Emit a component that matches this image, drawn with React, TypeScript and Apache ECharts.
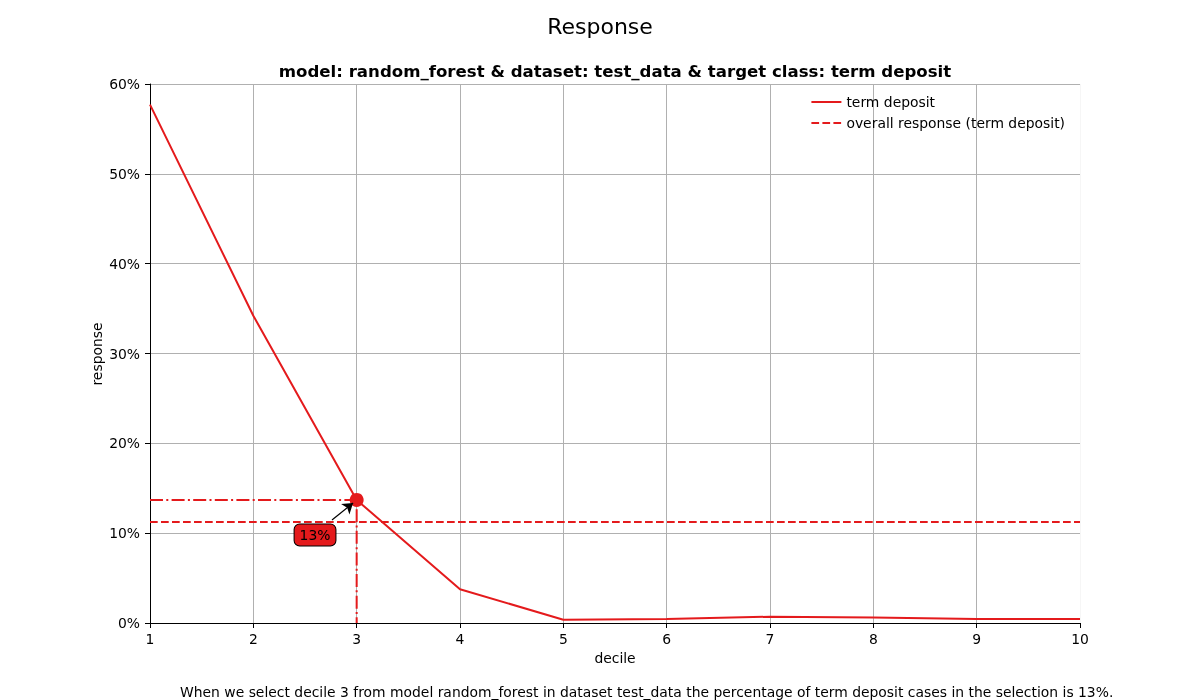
import React, { useEffect, useRef } from "react";
import * as echarts from "echarts";

const deciles = [1, 2, 3, 4, 5, 6, 7, 8, 9, 10];
const responseValues = [0.577, 0.342, 0.137, 0.0375, 0.0037, 0.0045, 0.007, 0.006, 0.0045, 0.0045];
const overallResponse = 0.1125;
const selectedDecile = 3;
const labelPos = [2.597, 0.098];
const arrowFrom = [2.761, 0.1147];
const arrowTo = [2.965, 0.1335];
const yTicks = [0, 0.1, 0.2, 0.3, 0.4, 0.5, 0.6];

const RED = "#e41a1c";
const FONT = "DejaVu Sans";
const GRID = "#b0b0b0";

export default function App() {
  const ref = useRef<HTMLDivElement>(null);
  useEffect(() => {
    if (!ref.current) return;
    const chart = echarts.init(ref.current, null, { renderer: "svg" });
    const selVal = responseValues[deciles.indexOf(selectedDecile)];
    const pct = Math.floor(selVal * 100) + "%";
    const xGridColors = deciles.map((_, i) => (i === deciles.length - 1 ? "#f6f6f6" : GRID));
    chart.setOption({
      animation: false,
      textStyle: { fontFamily: FONT },
      title: {
        text: "Response",
        left: "center",
        top: 10,
        textStyle: { fontFamily: FONT, fontSize: 22, fontWeight: "normal", color: "#000" },
      },
      legend: {
        orient: "vertical",
        right: 130,
        top: 90,
        itemWidth: 30,
        itemHeight: 14,
        itemGap: 7,
        itemStyle: { opacity: 0 },
        textStyle: { fontFamily: FONT, fontSize: 13.9, color: "#000" },
        data: ["term deposit", "overall response (term deposit)"],
      },
      grid: { left: 150, right: 120, top: 84, bottom: 77, containLabel: false },
      xAxis: {
        type: "value",
        min: 1,
        max: 10,
        interval: 1,
        axisLine: { show: true, onZero: false, lineStyle: { color: "#000", width: 1 } },
        axisTick: { show: true, length: 5, lineStyle: { color: "#000" } },
        axisLabel: { color: "#000", fontSize: 13.9, fontFamily: FONT, margin: 9 },
        splitLine: { show: true, lineStyle: { color: xGridColors, width: 1 } },
      },
      yAxis: {
        type: "value",
        min: 0,
        max: 0.6,
        interval: 0.1,
        axisLine: { show: true, lineStyle: { color: "#000", width: 1 } },
        axisTick: { show: true, length: 5, lineStyle: { color: "#000" } },
        axisLabel: {
          color: "#000",
          fontSize: 13.9,
          fontFamily: FONT,
          margin: 10,
          formatter: (v: number) => (yTicks.some((t) => Math.abs(t - v) < 1e-9) ? Math.round(v * 100) + "%" : ""),
        },
        splitLine: { show: true, lineStyle: { color: GRID, width: 1 } },
      },
      graphic: [
        {
          type: "text",
          x: 615,
          y: 71,
          style: {
            text: "model: random_forest & dataset: test_data & target class: term deposit",
            fontFamily: FONT,
            fontSize: 16.6,
            fontWeight: "bold",
            fill: "#000",
            textAlign: "center",
            textVerticalAlign: "middle",
          },
        },
        {
          type: "text",
          x: 615,
          y: 658,
          style: { text: "decile", fontFamily: FONT, fontSize: 13.9, fill: "#000", textAlign: "center", textVerticalAlign: "middle" },
        },
        {
          type: "text",
          x: 97,
          y: 354,
          rotation: Math.PI / 2,
          style: { text: "response", fontFamily: FONT, fontSize: 13.9, fill: "#000", textAlign: "center", textVerticalAlign: "middle" },
        },
        {
          type: "text",
          x: 180,
          y: 692,
          style: {
            text: "When we select decile 3 from model random_forest in dataset test_data the percentage of term deposit cases in the selection is 13%.",
            fontFamily: FONT,
            fontSize: 13.9,
            fill: "#000",
            textAlign: "left",
            textVerticalAlign: "middle",
          },
        },
      ],
      series: [
        {
          name: "term deposit",
          type: "line",
          data: deciles.map((d, i) => [d, responseValues[i]]),
          symbol: "none",
          lineStyle: { color: RED, width: 2 },
          itemStyle: { color: RED },
          z: 3,
        },
        {
          name: "overall response (term deposit)",
          type: "line",
          data: [
            [deciles[0], overallResponse],
            [deciles[deciles.length - 1], overallResponse],
          ],
          symbol: "none",
          lineStyle: { color: RED, width: 2, type: [7.7, 3.3] },
          itemStyle: { color: RED },
          z: 3,
        },
        {
          name: "annot",
          type: "line",
          data: [
            [deciles[0], selVal],
            [selectedDecile, selVal],
            [selectedDecile, 0],
          ],
          symbol: "none",
          lineStyle: { color: RED, width: 2, type: [13, 3.3, 2, 3.3] },
          z: 3,
        },
        {
          name: "point",
          type: "scatter",
          data: [[selectedDecile, selVal]],
          symbolSize: 14,
          itemStyle: { color: RED, opacity: 1 },
          z: 4,
        },
        {
          name: "label",
          type: "scatter",
          data: [labelPos],
          symbolSize: 1,
          itemStyle: { color: "rgba(0,0,0,0)", opacity: 1 },
          z: 6,
          label: {
            show: true,
            position: "inside",
            formatter: pct,
            color: "#000",
            fontFamily: FONT,
            fontSize: 13.9,
            backgroundColor: RED,
            borderColor: "#000",
            borderWidth: 1,
            borderRadius: 5,
            padding: [4, 5, 3, 5],
          },
        },
        {
          name: "arrow",
          type: "line",
          data: [],
          z: 10,
          markLine: {
            silent: true,
            z: 10,
            symbol: ["none", "arrow"],
            symbolSize: 10,
            label: { show: false },
            itemStyle: { color: "#000" },
            lineStyle: { color: "#000", width: 1.2, type: "solid", opacity: 1 },
            data: [[{ coord: arrowFrom }, { coord: arrowTo }]],
          },
        },
      ],
    });
    return () => chart.dispose();
  }, []);
  return <div ref={ref} style={{ position: "fixed", left: 0, top: 0, width: 1200, height: 700 }} />;
}
